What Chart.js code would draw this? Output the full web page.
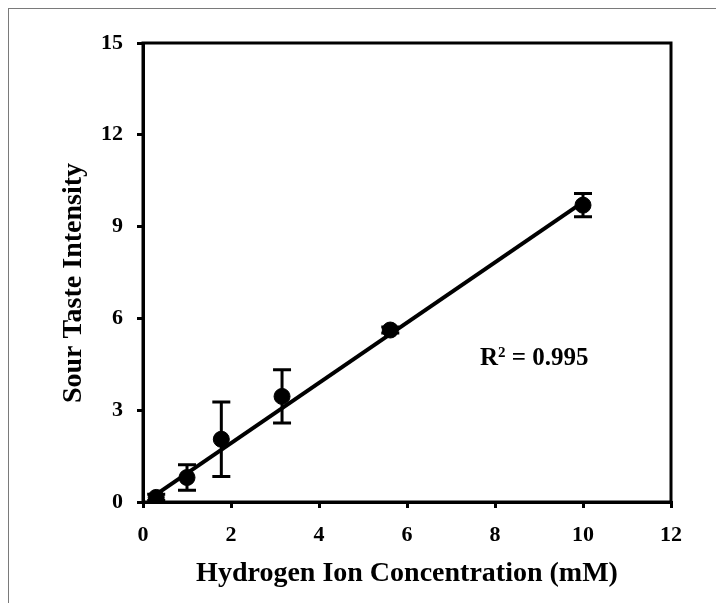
<!DOCTYPE html>
<html>
<head>
<meta charset="utf-8">
<script src="https://cdn.jsdelivr.net/npm/chart.js@4/dist/chart.umd.min.js"></script>
<style>
  html, body { margin: 0; padding: 0; background: #fff; }
  #wrap { width: 716px; height: 603px; }
</style>
</head>
<body>
<div id="wrap"><canvas id="tasteChart" width="716" height="603"></canvas></div>
<script>
// Sour taste vs hydrogen ion concentration
var concentration = [0.3, 1.0, 1.78, 3.16, 5.62, 10.0];
var intensity = [0.15, 0.8, 2.05, 3.45, 5.62, 9.7];
var errorSize = [0.1, 0.42, 1.22, 0.87, 0.1, 0.38];
var fitX = [0.25, 10.0];
var fitY = [0.2, 9.8];
var xTicks = [0, 2, 4, 6, 8, 10, 12];
var yTicks = [0, 3, 6, 9, 12, 15];
var rSquared = '0.995';

var serif = '"Liberation Serif", "Times New Roman", serif';

var points = concentration.map(function (x, i) {
  return { x: x, y: intensity[i] };
});
var fitLine = fitX.map(function (x, i) {
  return { x: x, y: fitY[i] };
});

/**
 * Plugin: frame, box around the plot, error bars and the R² label
 */
var decorations = {
  id: 'decorations',
  beforeDraw: function (chart) {
    var ctx = chart.ctx;
    ctx.save();
    ctx.strokeStyle = '#7a7a7a';
    ctx.lineWidth = 1;
    ctx.strokeRect(8.5, 8.5, 760, 660);
    ctx.restore();
  },
  afterDatasetsDraw: function (chart) {
    var ctx = chart.ctx;
    var xs = chart.scales.x;
    var ys = chart.scales.y;
    var area = chart.chartArea;

    ctx.save();
    // box around plot
    ctx.strokeStyle = '#000';
    ctx.lineWidth = 3;
    ctx.strokeRect(area.left, area.top, area.right - area.left, area.bottom - area.top);

    // error bars
    ctx.lineWidth = 3;
    concentration.forEach(function (x, i) {
      var px = xs.getPixelForValue(x);
      var top = ys.getPixelForValue(intensity[i] + errorSize[i]);
      var bot = ys.getPixelForValue(intensity[i] - errorSize[i]);
      ctx.beginPath();
      ctx.moveTo(px, top);
      ctx.lineTo(px, bot);
      ctx.moveTo(px - 9, top);
      ctx.lineTo(px + 9, top);
      ctx.moveTo(px - 9, bot);
      ctx.lineTo(px + 9, bot);
      ctx.stroke();
    });

    // R² label
    ctx.fillStyle = '#000';
    ctx.textBaseline = 'alphabetic';
    ctx.font = 'bold 25px ' + serif;
    var lx = xs.getPixelForValue(7.66);
    var ly = ys.getPixelForValue(4.48);
    ctx.fillText('R', lx, ly);
    var w = ctx.measureText('R').width;
    ctx.font = 'bold 15px ' + serif;
    ctx.fillText('2', lx + w, ly - 8);
    var w2 = ctx.measureText('2').width;
    ctx.font = 'bold 25px ' + serif;
    ctx.fillText(' = ' + rSquared, lx + w + w2, ly);
    ctx.restore();
  }
};

var ctx = document.getElementById('tasteChart').getContext('2d');
var chart = new Chart(ctx, {
  type: 'scatter',
  data: {
    datasets: [
      {
        type: 'line',
        label: 'Fit',
        data: fitLine,
        borderColor: '#000',
        borderWidth: 4,
        pointRadius: 0,
        fill: false,
        order: 2
      },
      {
        label: 'Sour taste',
        data: points,
        backgroundColor: '#000',
        borderColor: '#000',
        pointRadius: 8,
        pointHoverRadius: 8,
        order: 1
      }
    ]
  },
  options: {
    responsive: false,
    animation: false,
    layout: { padding: { top: 43, right: 45, left: 0, bottom: 0 } },
    plugins: {
      legend: { display: false },
      tooltip: { enabled: false }
    },
    scales: {
      x: {
        type: 'linear',
        min: 0,
        max: 12,
        afterBuildTicks: function (scale) {
          scale.ticks = xTicks.map(function (v) { return { value: v }; });
        },
        afterFit: function (scale) { scale.height = 101; },
        grid: { drawOnChartArea: false, drawTicks: true, tickLength: 6, color: '#000', lineWidth: 3 },
        border: { display: true, color: '#000', width: 3 },
        ticks: {
          color: '#000',
          padding: 14,
          font: { family: serif, size: 22, weight: 'bold' }
        },
        title: {
          display: true,
          text: 'Hydrogen Ion Concentration (mM)',
          color: '#000',
          padding: 12,
          font: { family: serif, size: 28, weight: 'bold' }
        }
      },
      y: {
        type: 'linear',
        min: 0,
        max: 15,
        afterBuildTicks: function (scale) {
          scale.ticks = yTicks.map(function (v) { return { value: v }; });
        },
        afterFit: function (scale) { scale.width = 143; },
        grid: { drawOnChartArea: false, drawTicks: true, tickLength: 6, color: '#000', lineWidth: 3 },
        border: { display: true, color: '#000', width: 3 },
        ticks: {
          color: '#000',
          padding: 14,
          font: { family: serif, size: 22, weight: 'bold' }
        },
        title: {
          display: true,
          // trailing spaces nudge the rotated title down a little
          text: 'Sour Taste Intensity   ',
          color: '#000',
          padding: 57,
          font: { family: serif, size: 28, weight: 'bold' }
        }
      }
    }
  },
  plugins: [decorations]
});
</script>
</body>
</html>
